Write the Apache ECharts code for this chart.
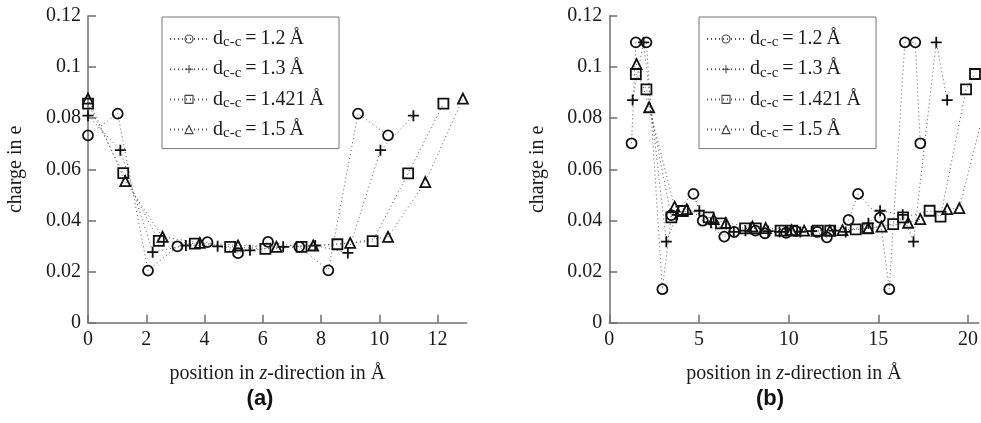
<!DOCTYPE html>
<html>
<head>
<meta charset="utf-8">
<script src="https://cdn.jsdelivr.net/npm/echarts@6/dist/echarts.min.js"></script>
<style>html,body{margin:0;padding:0;background:#fff}#c{width:981px;height:423px}</style>
</head>
<body>
<div id="c"></div>
<script>
// ---- Data: panel (a) ----
const aX_12 = [0, 1.02, 2.06, 3.07, 4.10, 5.15, 6.18, 7.25, 8.25, 9.27, 10.30];
const aY_12 = [0.0733, 0.0818, 0.0204, 0.0299, 0.0315, 0.0272, 0.0316, 0.0297, 0.0205, 0.0818, 0.0733];
const aX_13 = [0, 1.11, 2.22, 3.36, 4.45, 5.56, 6.70, 7.80, 8.92, 10.04, 11.17];
const aY_13 = [0.0810, 0.0675, 0.0276, 0.0302, 0.0299, 0.0283, 0.0297, 0.0302, 0.0273, 0.0675, 0.0810];
const aX_1421 = [0, 1.21, 2.43, 3.67, 4.88, 6.09, 7.33, 8.56, 9.77, 10.99, 12.20];
const aY_1421 = [0.0857, 0.0585, 0.0320, 0.0309, 0.0297, 0.0289, 0.0297, 0.0307, 0.0319, 0.0584, 0.0857];
const aX_15 = [0, 1.28, 2.56, 3.84, 5.15, 6.47, 7.73, 9.00, 10.30, 11.58, 12.87];
const aY_15 = [0.0877, 0.0554, 0.0336, 0.0312, 0.0302, 0.0297, 0.0302, 0.0312, 0.0336, 0.0550, 0.0877];

// ---- Data: panel (b) ----
const bX_12 = [1.24, 1.48, 2.07, 2.96, 3.46, 4.69, 5.21, 6.41, 6.96, 8.15, 8.68, 9.86, 10.40, 11.60, 12.13, 13.34, 13.87, 15.09, 15.61, 16.48, 17.06, 17.34];
const bY_12 = [0.0702, 0.1097, 0.1097, 0.0131, 0.0421, 0.0504, 0.0399, 0.0337, 0.0355, 0.0360, 0.0350, 0.0352, 0.0358, 0.0355, 0.0334, 0.0402, 0.0504, 0.0411, 0.0131, 0.1097, 0.1097, 0.0702];
const bX_13 = [1.30, 1.91, 3.18, 3.78, 5.02, 5.67, 6.94, 7.59, 8.86, 9.49, 10.65, 11.28, 12.55, 13.18, 14.45, 15.10, 16.36, 16.96, 18.23, 18.84];
const bY_13 = [0.0871, 0.1097, 0.0317, 0.0422, 0.0438, 0.0391, 0.0355, 0.0360, 0.0358, 0.0355, 0.0355, 0.0358, 0.0360, 0.0355, 0.0389, 0.0438, 0.0422, 0.0317, 0.1097, 0.0871];
const bX_1421 = [1.48, 2.07, 3.46, 4.10, 5.54, 6.23, 7.57, 8.17, 9.55, 10.19, 11.63, 12.32, 13.74, 14.40, 15.83, 16.38, 17.86, 18.47, 19.89, 20.39];
const bY_1421 = [0.0973, 0.0913, 0.0412, 0.0437, 0.0412, 0.0389, 0.0369, 0.0369, 0.0360, 0.0360, 0.0360, 0.0360, 0.0365, 0.0369, 0.0386, 0.0412, 0.0438, 0.0415, 0.0913, 0.0973];
const bX_15 = [1.52, 2.22, 3.64, 4.32, 5.82, 6.50, 7.98, 8.72, 10.16, 10.86, 12.30, 13.00, 14.44, 15.18, 16.66, 17.34, 18.84, 19.52, 20.94, 21.64];
const bY_15 = [0.1012, 0.0843, 0.0454, 0.0444, 0.0405, 0.0390, 0.0376, 0.0370, 0.0362, 0.0360, 0.0360, 0.0362, 0.0370, 0.0376, 0.0391, 0.0405, 0.0444, 0.0448, 0.0843, 0.1012];

// ---- Axis / label text ----
const legendLabels = ['1.2', '1.3', '1.421', '1.5'];
const aXTicks = [0, 2, 4, 6, 8, 10, 12];
const bXTicks = [0, 5, 10, 15, 20];
const yTicks = [0, 0.02, 0.04, 0.06, 0.08, 0.1, 0.12];

const FONT = 'Liberation Serif';
const AXC = '#6f6f6f';
const TXT = '#1a1a1a';
const PLUS = 'path://M0,5L10,5M5,0L5,10';
const symbols = ['circle', PLUS, 'rect', 'triangle'];
const symSizes = [10, 11, 10, 10];

function pairs(xs, ys) { return xs.map((x, i) => [x, ys[i]]); }

const panels = [
  [pairs(aX_12, aY_12), pairs(aX_13, aY_13), pairs(aX_1421, aY_1421), pairs(aX_15, aY_15)],
  [pairs(bX_12, bY_12), pairs(bX_13, bY_13), pairs(bX_1421, bY_1421), pairs(bX_15, bY_15)]
];
const prefixes = ['A', 'B'];

const series = [];
panels.forEach((p, pi) => {
  p.forEach((d, si) => {
    series.push({
      name: prefixes[pi] + legendLabels[si],
      type: 'line',
      xAxisIndex: pi, yAxisIndex: pi,
      data: d,
      symbol: symbols[si],
      symbolSize: symSizes[si],
      showSymbol: true,
      clip: true,
      lineStyle: { type: [1, 3], width: 1, color: '#555' },
      itemStyle: { color: 'rgba(255,255,255,0)', borderColor: '#111', borderWidth: 1.8 },
      emphasis: { disabled: true },
      z: 3
    });
  });
});

function xAxis(gi, max, ticks) {
  return {
    type: 'value', gridIndex: gi, min: 0, max: max,
    interval: ticks[1] - ticks[0],
    axisLine: { show: true, lineStyle: { color: AXC, width: 1.5 } },
    axisTick: { show: true, inside: true, length: 8, customValues: ticks, lineStyle: { color: AXC, width: 1.5 } },
    axisLabel: { customValues: ticks, fontFamily: FONT, fontSize: 20, color: TXT, margin: 7 },
    splitLine: { show: false },
    name: '{n|position in }{i|z}{n|-direction in Å}',
    nameLocation: 'middle', nameGap: 41,
    nameTextStyle: {
      rich: {
        n: { fontFamily: FONT, fontSize: 20, color: TXT },
        i: { fontFamily: FONT, fontSize: 20, color: TXT, fontStyle: 'italic' }
      }
    }
  };
}
function yAxis(gi) {
  return {
    type: 'value', gridIndex: gi, min: 0, max: 0.12, interval: 0.02,
    axisLine: { show: true, lineStyle: { color: AXC, width: 1.5 } },
    axisTick: { show: true, inside: true, length: 8, customValues: yTicks, lineStyle: { color: AXC, width: 1.5 } },
    axisLabel: { customValues: yTicks, fontFamily: FONT, fontSize: 20, color: TXT, margin: 7,
      formatter: v => String(Math.round(v * 100) / 100) },
    splitLine: { show: false },
    name: 'charge in e', nameLocation: 'middle', nameGap: 62,
    nameTextStyle: { fontFamily: FONT, fontSize: 20, color: TXT }
  };
}

function legend(pi, left) {
  return {
    show: true,
    orient: 'vertical',
    left: left, top: 17,
    data: legendLabels.map(l => prefixes[pi] + l),
    backgroundColor: '#fff',
    borderColor: '#777', borderWidth: 1,
    padding: [12, 15, 8, 7],
    itemGap: 9.2,
    itemWidth: 38, itemHeight: 10,
    selectedMode: false,
    itemStyle: { borderWidth: 1.1, borderColor: '#444' },
    formatter: name => '{d|d}{s|c-c}{d|\u2009=\u20091.' + name.slice(3) + '\u2009Å}',
    textStyle: {
      rich: {
        d: { fontFamily: FONT, fontSize: 20, color: TXT, lineHeight: 22 },
        s: { fontFamily: FONT, fontSize: 15, color: TXT, lineHeight: 10, verticalAlign: 'bottom' }
      }
    }
  };
}

const chart = echarts.init(document.getElementById('c'), null, { renderer: 'canvas' });
chart.setOption({
  animation: false,
  backgroundColor: '#fff',
  grid: [
    { left: 88, top: 16, width: 378.7, height: 306.7 },
    { left: 609.3, top: 16, width: 371.7, height: 306.7 }
  ],
  xAxis: [xAxis(0, 13, aXTicks), xAxis(1, 20.6, bXTicks)],
  yAxis: [yAxis(0), yAxis(1)],
  legend: [legend(0, 162), legend(1, 699)],
  graphic: [
    { type: 'text', x: 260, y: 399, style: { text: '(a)', font: 'bold 22px "Liberation Sans"', fill: '#111', textAlign: 'center', textVerticalAlign: 'middle' } },
    { type: 'text', x: 770, y: 399, style: { text: '(b)', font: 'bold 22px "Liberation Sans"', fill: '#111', textAlign: 'center', textVerticalAlign: 'middle' } }
  ],
  series: series
});
</script>
</body>
</html>
